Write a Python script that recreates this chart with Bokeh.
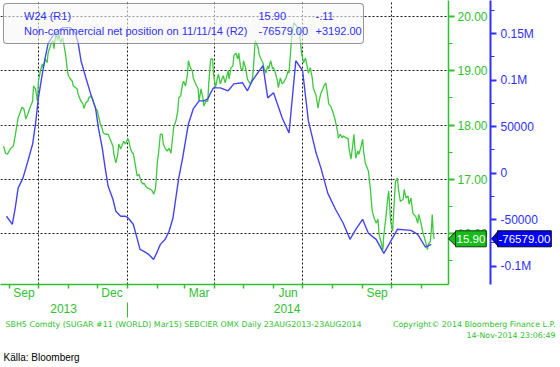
import pandas as pd
from bokeh.plotting import figure
from bokeh.layouts import column
from bokeh.models import (Range1d, LinearAxis, FixedTicker, Label, Legend,
                          LegendItem, NumeralTickFormatter)
from bokeh.embed import file_html
from bokeh.resources import INLINE

# ---------------- data (day offsets from 2013-09-01) ----------------
BASE = pd.Timestamp("2013-09-01")

green_day = [-6, -4, -2, 1, 4, 6, 8, 9, 13, 15,
             17, 19, 21, 24, 25, 27, 29, 30, 32, 34,
             35, 37, 39, 40, 43, 45, 46, 48, 50, 51,
             53, 55, 56, 58, 60, 61, 63, 65, 66, 70,
             71, 74, 76, 77, 79, 81, 82, 84, 86, 87,
             89, 91, 92, 94, 96, 97, 100, 102, 105, 107,
             108, 110, 112, 113, 115, 117, 118, 120, 122, 123,
             125, 127, 128, 130, 132, 134, 136, 138, 139, 141,
             143, 144, 146, 148, 149, 151, 153, 154, 156, 158,
             159, 161, 163, 165, 167, 169, 170, 172, 174, 175,
             177, 179, 180, 182, 184, 185, 187, 189, 190, 192,
             195, 196, 198, 200, 201, 203, 205, 206, 208, 210,
             211, 213, 215, 216, 218, 220, 221, 223, 226, 227,
             229, 231, 232, 234, 236, 237, 239, 241, 242, 244,
             246, 247, 249, 251, 252, 254, 257, 258, 260, 262,
             263, 265, 267, 268, 270, 272, 273, 275, 277, 278,
             280, 282, 283, 286, 288, 289, 292, 294, 298, 300,
             302, 303, 304, 306, 308, 309, 311, 313, 314, 317,
             319, 320, 322, 324, 325, 327, 329, 330, 332, 334,
             335, 337, 339, 340, 342, 344, 345, 348, 350, 351,
             353, 355, 356, 358, 360, 361, 363, 365, 366, 368,
             370, 371, 373, 375, 377, 379, 381, 382, 384, 386,
             387, 389, 391, 392, 394, 396, 397, 399, 401, 402,
             404, 407, 408, 410, 412, 413, 415, 417, 418, 420,
             422, 423, 425, 427, 428, 430, 432, 433, 435, 436,
             437, 438, 439]

green_price = [17.61, 17.48, 17.46, 17.56, 17.61, 17.80, 18.02, 18.13, 18.33, 18.30,
               18.11, 18.20, 18.31, 18.44, 18.72, 18.67, 18.44, 18.81, 19.00, 19.13,
               19.06, 19.22, 19.15, 19.33, 19.50, 19.56, 19.41, 19.69, 19.56, 19.70,
               19.52, 19.61, 19.52, 19.31, 19.00, 18.91, 18.85, 18.81, 18.72, 18.67,
               18.57, 18.44, 18.39, 18.31, 18.41, 18.44, 18.50, 18.54, 18.48, 18.41,
               18.31, 18.26, 18.17, 18.02, 17.93, 17.85, 17.83, 17.83, 17.70, 17.61,
               17.46, 17.30, 17.46, 17.65, 17.56, 17.65, 17.70, 17.65, 17.74, 17.74,
               17.57, 17.48, 17.48, 17.28, 17.06, 17.09, 16.96, 16.91, 16.93, 16.87,
               16.83, 16.83, 16.81, 16.78, 16.72, 16.83, 17.33, 17.46, 17.83, 17.83,
               17.65, 17.57, 17.52, 17.57, 17.48, 17.83, 17.98, 18.07, 18.26, 18.50,
               18.54, 18.76, 18.81, 18.72, 18.94, 19.19, 19.06, 19.00, 18.87, 18.78,
               18.67, 18.44, 18.67, 18.50, 18.35, 18.44, 18.44, 18.76, 19.22, 19.22,
               18.94, 18.69, 18.87, 18.94, 18.76, 18.87, 18.91, 18.78, 19.00, 18.85,
               19.06, 19.09, 19.28, 19.33, 19.22, 19.33, 19.06, 19.00, 19.19, 19.06,
               18.85, 18.81, 18.76, 18.85, 19.00, 19.56, 19.43, 19.31, 19.22, 19.15,
               19.06, 18.96, 19.09, 19.04, 19.19, 19.04, 19.06, 18.96, 18.81, 18.69,
               18.87, 18.76, 18.78, 18.87, 19.00, 18.96, 19.69, 19.89, 19.80, 19.69,
               19.31, 19.24, 19.15, 19.24, 19.06, 18.96, 19.06, 18.87, 18.69, 18.54,
               18.31, 18.44, 18.59, 18.67, 18.72, 18.78, 18.54, 18.39, 18.35, 18.26,
               18.20, 18.07, 17.89, 17.76, 17.83, 17.76, 17.80, 17.76, 17.76, 17.57,
               17.37, 17.65, 17.83, 17.39, 17.52, 17.46, 17.57, 17.74, 17.52, 17.28,
               17.20, 17.15, 16.83, 16.41, 16.28, 16.19, 16.26, 15.98, 15.85, 15.70,
               15.98, 16.28, 16.65, 16.78, 16.22, 16.04, 16.35, 16.96, 17.02, 16.83,
               16.59, 16.63, 16.81, 16.65, 16.69, 16.54, 16.65, 16.37, 16.35, 16.31,
               16.19, 16.35, 16.22, 16.04, 15.98, 15.85, 15.70, 15.80, 15.85, 16.04,
               16.35, 16.01, 15.90]

blue_day = [-3, 3, 6, 9, 14, 17, 20, 24, 27, 30,
            34, 37, 40, 45, 48, 55, 63, 68, 71, 74,
            79, 84, 89, 92, 96, 99, 102, 107, 110, 115,
            120, 123, 128, 132, 135, 139, 144, 149, 153, 156,
            161, 165, 169, 172, 175, 179, 182, 185, 190, 196,
            201, 205, 208, 211, 218, 226, 232, 241, 246, 251,
            262, 267, 273, 277, 282, 289, 296, 303, 309, 317,
            322, 329, 337, 345, 352, 358, 365, 371, 379, 387,
            394, 401, 415, 422, 430, 436]

blue_pos = [-46400, -55100, -37800, -16200, -5400, 5400, 16200, 31300, 52900, 81000,
            106900, 124200, 139300, 148000, 151200, 156600, 156600, 151200, 140400, 121000,
            102600, 85300, 70200, 48600, 27000, 5400, -14000, -28100, -41000, -46400,
            -46400, -48600, -55100, -70200, -82100, -84200, -87500, -92900, -84200, -76700,
            -71300, -62600, -48600, -27000, -5400, 16200, 34600, 52900, 69100, 77800,
            77800, 79900, 86400, 91800, 91800, 88600, 96100, 97200, 88600, 99400,
            115600, 81000, 86400, 74500, 59400, 43200, 121000, 110200, 56200, 21600,
            5400, -21600, -38900, -54000, -71300, -60500, -49700, -64800, -71300, -86400,
            -73400, -60500, -61600, -65900, -79800, -76579]

green_name = "W24 (R1)"
blue_name = "Non-commercial net position on 11/11/14 (R2)"
green_last, green_change = "15.90", "-.11"
blue_last, blue_change = "-76579.00", "+3192.00"

label_months = ["2013-09", "2013-12", "2014-03", "2014-06", "2014-09"]
grid_months = ["2013-10", "2014-01", "2014-04", "2014-07", "2014-10"]
years = ["2013", "2014"]

price_ticks = [16, 17, 18, 19, 20]
price_minor = [15.5, 16.5, 17.5, 18.5, 19.5]
pos_ticks = [-100000, -50000, 0, 50000, 100000, 150000]
pos_labels = ["-0.1M", "-50000", "0", "50000", "0.1M", "0.15M"]
pos_minor = [-75000, -25000, 25000, 75000, 125000, 175000]

footer_left = "SBH5 Comdty (SUGAR #11 (WORLD) Mar15) SEBCIER OMX  Daily 23AUG2013-23AUG2014"
footer_right1 = "Copyright\u00a9 2014 Bloomberg Finance L.P."
footer_right2 = "14-Nov-2014 23:06:49"
source_text = "K\u00e4lla: Bloomberg"

# ---------------- style / layout ----------------
GREEN_LINE = "#3ec83e"
GREEN = "#30c030"
BLUE_LINE = "#4444f0"
BLUE = "#3030ff"
FONT = "Liberation Sans"

W, H = 560, 367
FW, FH = 448, 284
GREEN_AXIS_W = 42

x_start, x_end = -9.2, 453.8
price_lo, price_hi = 15.056, 20.30
pos_lo, pos_hi = -119900, 185800

fig = figure(width=W, height=H, frame_width=FW, frame_height=FH,
             x_range=Range1d(x_start, x_end), y_range=Range1d(price_lo, price_hi),
             y_axis_location="right", output_backend="svg", toolbar_location=None,
             min_border_left=0, min_border_top=0, min_border_right=W - FW,
             min_border_bottom=H - FH)
fig.outline_line_color = None
fig.background_fill_color = "white"
fig.border_fill_color = "white"
fig.extra_y_ranges = {"pos": Range1d(pos_lo, pos_hi)}

# ---------------- ticks from dates ----------------
def day_of(ts):
    return (pd.Timestamp(ts) - BASE).days

month_starts = pd.date_range("2013-08-01", "2014-12-01", freq="MS")
month_days = [day_of(m) for m in month_starts if x_start <= day_of(m) <= x_end]
label_pos = []
label_txt = {}
for m in label_months:
    s = pd.Timestamp(m + "-01")
    e = s + pd.offsets.MonthBegin(1)
    mid = (day_of(s) + day_of(e)) // 2
    label_pos.append(mid)
    label_txt[mid] = s.strftime("%b")
grid_days = [day_of(m + "-01") for m in grid_months]
jan1 = day_of("2014-01-01")
year_pos = [int((x_start + jan1) / 2), int((jan1 + x_end) / 2)]

# grids
fig.xgrid.ticker = FixedTicker(ticks=grid_days)
fig.ygrid.ticker = FixedTicker(ticks=price_ticks)
for g in (fig.xgrid, fig.ygrid):
    g.grid_line_color = "black"
    g.grid_line_dash = "2 2"
    g.grid_line_width = 1
    g.grid_line_alpha = 0.9

# month axis
xa = fig.xaxis[0]
xa.ticker = FixedTicker(ticks=label_pos, minor_ticks=month_days)
xa.major_label_overrides = label_txt
xa.major_tick_line_color = None
xa.major_tick_out = 0
xa.major_tick_in = 0
xa.minor_tick_line_color = GREEN
xa.minor_tick_line_width = 1.5
xa.minor_tick_out = 4
xa.minor_tick_in = 0
xa.axis_line_color = GREEN
xa.axis_line_width = 1.5
xa.major_label_text_color = GREEN
xa.major_label_text_font = FONT
xa.major_label_text_font_size = "12px"
xa.major_label_standoff = -3

# year axis
yr = LinearAxis(ticker=FixedTicker(ticks=year_pos, minor_ticks=[jan1]),
                major_label_overrides=dict(zip(year_pos, years)))
yr.axis_line_color = None
yr.major_tick_line_color = None
yr.major_tick_out = 0
yr.major_tick_in = 0
yr.minor_tick_line_color = GREEN
yr.minor_tick_out = 15
yr.minor_tick_in = 0
yr.major_label_text_color = GREEN
yr.major_label_text_font = FONT
yr.major_label_text_font_size = "12px"
yr.major_label_standoff = -14
fig.add_layout(yr, "below")

# green price axis (right)
ga = fig.yaxis[0]
ga.ticker = FixedTicker(ticks=price_ticks, minor_ticks=price_minor)
ga.formatter = NumeralTickFormatter(format="0.00")
ga.axis_line_color = GREEN
ga.axis_line_width = 1.5
ga.major_tick_line_color = GREEN
ga.major_tick_line_width = 2
ga.major_tick_out = 6
ga.major_tick_in = 0
ga.minor_tick_line_color = GREEN
ga.minor_tick_out = 4
ga.minor_tick_in = 0
ga.major_label_text_color = GREEN
ga.major_label_text_font = FONT
ga.major_label_text_font_size = "12px"
ga.major_label_standoff = 3

# blue position axis (right)
ba = LinearAxis(y_range_name="pos",
                ticker=FixedTicker(ticks=pos_ticks, minor_ticks=pos_minor),
                major_label_overrides=dict(zip(pos_ticks, pos_labels)))
ba.axis_line_color = BLUE
ba.axis_line_width = 2
ba.major_tick_line_color = BLUE
ba.major_tick_line_width = 2
ba.major_tick_out = 6
ba.major_tick_in = 0
ba.minor_tick_line_color = BLUE
ba.minor_tick_out = 4
ba.minor_tick_in = 0
ba.major_label_text_color = BLUE
ba.major_label_text_font = FONT
ba.major_label_text_font_size = "12px"
ba.major_label_standoff = 4
fig.add_layout(ba, "right")

# ---------------- series ----------------
fig.line(green_day, green_price, line_color=GREEN_LINE, line_width=1.3)
fig.line(blue_day, blue_pos, y_range_name="pos", line_color=BLUE_LINE, line_width=1.4)

# ---------------- legend ----------------
g_sq = fig.quad(left=[], right=[], top=[], bottom=[], fill_color="#00c000", line_color=None)
b_sq = fig.quad(left=[], right=[], top=[], bottom=[], fill_color="#0000ff", line_color=None)
leg = Legend(items=[LegendItem(label=green_name, renderers=[g_sq]),
                    LegendItem(label=blue_name, renderers=[b_sq])],
             location="top_left", margin=3, padding=5, spacing=1,
             glyph_width=10, glyph_height=10, label_height=14, label_standoff=5,
             label_width=334, border_radius=4)
leg.label_text_font = FONT
leg.label_text_font_size = "11px"
leg.label_text_color = BLUE
leg.border_line_color = "#333333"
leg.border_line_width = 1.3
leg.background_fill_color = "#f6f6f6"
leg.background_fill_alpha = 0.6
fig.add_layout(leg)

# ---------------- overlay canvas for texts outside the plot frame ----------------
ov = figure(width=W, height=H, frame_width=W, frame_height=H,
            x_range=Range1d(0, W), y_range=Range1d(H, 0),
            x_axis_location=None, y_axis_location=None,
            output_backend="svg", toolbar_location=None, min_border=0,
            margin=(-H, 0, 0, 0))
ov.grid.visible = False
ov.outline_line_color = None
ov.background_fill_color = None
ov.border_fill_color = None
for f in (fig, ov):
    if "frame_align" in f.properties():
        f.frame_align = False

# legend value columns
row_y = [15.5, 30.5]
for yy, (v, c) in zip(row_y, [(green_last, green_change), (blue_last, blue_change)]):
    ov.add_layout(Label(x=258, y=yy, text=v, text_font=FONT, text_font_size="11px",
                        text_color=BLUE, text_baseline="middle"))
    ov.add_layout(Label(x=315, y=yy, text=c, text_font=FONT, text_font_size="11px",
                        text_color=BLUE, text_baseline="middle"))

# last-value tags on the axes (vertical position from the price scale)
tag_y = FH * (price_hi - float(green_last)) / (price_hi - price_lo)
g_tip, g_box = FW, FW + 7
b_tip, b_box = FW + GREEN_AXIS_W + 1, FW + GREEN_AXIS_W + 7
ov.patches([[g_tip, g_box, g_box], [b_tip, b_box, b_box]],
           [[tag_y, tag_y - 7, tag_y + 7], [tag_y, tag_y - 7, tag_y + 7]],
           fill_color=["#18bc18", "#0000ff"], line_color="#000000", line_width=0.8)
ov.add_layout(Label(x=g_box, y=tag_y, text=green_last, text_font=FONT,
                    text_font_size="11.5px", text_color="white", text_baseline="middle",
                    background_fill_color="#18bc18", border_line_color="#0a3a0a",
                    padding=(1, 4)))
ov.add_layout(Label(x=b_box, y=tag_y, text=blue_last, text_font=FONT,
                    text_font_size="11.5px", text_color="white", text_baseline="middle",
                    background_fill_color="#0000ff", border_line_color="#000022",
                    padding=(1, 4)))

# footer
ov.add_layout(Label(x=5, y=323.5, text=footer_left, text_font="DejaVu Sans",
                    text_font_size="7.9px", text_color=GREEN, text_baseline="middle"))
ov.add_layout(Label(x=W - 5, y=323.5, text=footer_right1, text_font="DejaVu Sans",
                    text_font_size="7.9px", text_color=GREEN, text_baseline="middle",
                    text_align="right"))
ov.add_layout(Label(x=W - 5, y=335, text=footer_right2, text_font="DejaVu Sans",
                    text_font_size="7.9px", text_color=GREEN, text_baseline="middle",
                    text_align="right"))
ov.add_layout(Label(x=3, y=356.5, text=source_text, text_font=FONT,
                    text_font_size="10px", text_color="black", text_baseline="middle"))

p = column(fig, ov, spacing=0)
open("out.html", "w").write(file_html(p, INLINE))
